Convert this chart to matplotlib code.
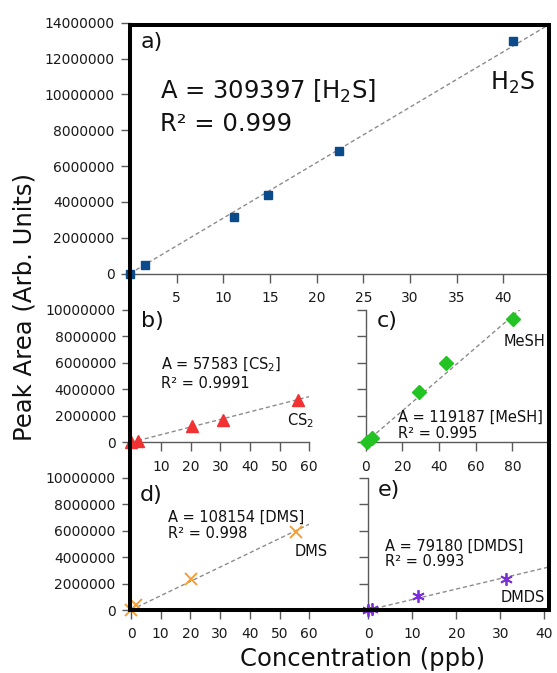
import numpy as np
import matplotlib
matplotlib.use('Agg')
import matplotlib.pyplot as plt
from matplotlib.patches import Rectangle
from matplotlib.ticker import StrMethodFormatter


W, H = 557, 673

# Calibration points: concentration (ppb) vs. peak area
h2s_conc = [0, 1.6, 11.1, 14.8, 22.4, 41.0]
h2s_area = [0, 460000, 3140000, 4390000, 6850000, 13000000]
cs2_conc = [0, 2.1, 20.5, 30.8, 56.2]
cs2_area = [0, 110000, 1250000, 1680000, 3190000]
mesh_conc = [0.5, 3.3, 29.3, 43.8, 80.2]
mesh_area = [0, 350000, 3770000, 5980000, 9350000]
dms_conc = [0, 1.6, 20.1, 55.4]
dms_area = [0, 370000, 2340000, 5860000]
dmds_conc = [0, 0.8, 11.4, 31.4]
dmds_area = [0, 50000, 1060000, 2340000]

# Fitted slopes (area per ppb) and R^2 values
slopes = {'H2S': 309397, 'CS2': 57583, 'MeSH': 119187, 'DMS': 108154, 'DMDS': 79180}
r2 = {'H2S': '0.999', 'CS2': '0.9991', 'MeSH': '0.995', 'DMS': '0.998', 'DMDS': '0.993'}

big_yticks = [0, 2000000, 4000000, 6000000, 8000000, 10000000, 12000000, 14000000]
small_yticks = [0, 2000000, 4000000, 6000000, 8000000, 10000000]

SPINE = '#5a5a5a'
FIT = '#8c8c8c'


def box(l, t, r, b):
    # pixel box (top-left origin) -> figure fraction rect
    return [l / W, 1 - b / H, (r - l) / W, (b - t) / H]


def put(fig, px, py, s, size):
    fig.text(px / W, 1 - py / H, s, ha='left', va='center', fontsize=size, color='#111111')


def setup(ax, xlim, ylim, xticks, yticks, spines, ylabels):
    ax.set_xlim(*xlim)
    ax.set_ylim(*ylim)
    for side in ['left', 'right', 'top', 'bottom']:
        ax.spines[side].set_visible(side in spines)
        ax.spines[side].set_color(SPINE)
        ax.spines[side].set_linewidth(1.0)
    ax.set_xticks(xticks)
    ax.set_yticks(yticks)
    ax.yaxis.set_major_formatter(StrMethodFormatter('{x:.0f}'))
    ax.tick_params(direction='out', length=6.5, width=1, color=SPINE,
                   labelsize=10, labelcolor='#1a1a1a')
    ax.tick_params(axis='x', pad=6)
    ax.tick_params(axis='y', pad=4.5, labelleft=ylabels)
    ax.patch.set_alpha(0)


def draw(ax, conc, area, slope, xmax, **style):
    xs = np.array([0, xmax])
    ax.plot(xs, slope * xs, color=FIT, lw=1, dashes=(3, 2), zorder=2)
    ax.plot(conc, area, ls='none', clip_on=False, zorder=3, **style)


fig = plt.figure(figsize=(W / 100, H / 100), dpi=100)

ax_a = fig.add_axes(box(130, 22.7, 548.5, 273.5))
ax_b = fig.add_axes(box(131.3, 310, 309.3, 442.3))
ax_c = fig.add_axes(box(365.7, 310, 548.5, 442.3))
ax_d = fig.add_axes(box(131, 477.7, 309.3, 610))
ax_e = fig.add_axes(box(368.3, 477.7, 548.5, 610))

# a) H2S
setup(ax_a, (0, 44.85), (0, 14000000), [5, 10, 15, 20, 25, 30, 35, 40], big_yticks, ['bottom'], True)
draw(ax_a, h2s_conc, h2s_area, slopes['H2S'], 44.85,
     marker='s', ms=6, color='#0b4a8b', mec='#0b4a8b')

# b) CS2
setup(ax_b, (0, 60), (0, 10000000), [10, 20, 30, 40, 50, 60], small_yticks, ['bottom'], True)
draw(ax_b, cs2_conc, cs2_area, slopes['CS2'], 60,
     marker='^', ms=9, color='#f23232', mec='#f23232')

# c) MeSH
setup(ax_c, (0, 99.7), (0, 10000000), [0, 20, 40, 60, 80], small_yticks, ['left', 'bottom'], False)
draw(ax_c, mesh_conc, mesh_area, slopes['MeSH'], 99.7,
     marker='D', ms=7, color='#22c322', mec='#22c322')

# d) DMS
setup(ax_d, (0, 60), (0, 10000000), [0, 10, 20, 30, 40, 50, 60], small_yticks, [], True)
draw(ax_d, dms_conc, dms_area, slopes['DMS'], 60,
     marker='x', ms=9, mew=1.4, color='#f5a033')

# e) DMDS
setup(ax_e, (0, 40.95), (0, 10000000), [0, 10, 20, 30, 40], small_yticks, ['left'], False)
draw(ax_e, dmds_conc, dmds_area, slopes['DMDS'], 40.95,
     marker=(6, 2, 0), ms=9, mew=1.3, color='#7b2fd6')

# heavy outer frame around all panels
fig.add_artist(Rectangle((130.3 / W, 1 - 609.5 / H), (548.5 - 130.3) / W, (609.5 - 24.7) / H,
                         transform=fig.transFigure, fill=False, ec='black', lw=2.9, zorder=10))

# panel labels and fit equations
put(fig, 141, 42, 'a)', 16)
put(fig, 160, 91, 'A = %d [H$_2$S]' % slopes['H2S'], 17.5)
put(fig, 160, 124, 'R² = ' + r2['H2S'], 17.5)
put(fig, 490, 83, 'H$_2$S', 17)

put(fig, 141, 321, 'b)', 16)
put(fig, 161, 365, 'A = %d [CS$_2$]' % slopes['CS2'], 10.5)
put(fig, 161, 384, 'R² = ' + r2['CS2'], 10.5)
put(fig, 287, 421, 'CS$_2$', 10.5)

put(fig, 377, 321, 'c)', 16)
put(fig, 504, 342, 'MeSH', 10.5)
put(fig, 398, 417, 'A = %d [MeSH]' % slopes['MeSH'], 10.5)
put(fig, 398, 433, 'R² = ' + r2['MeSH'], 10.5)

put(fig, 140, 495, 'd)', 16)
put(fig, 168, 517, 'A = %d [DMS]' % slopes['DMS'], 10.5)
put(fig, 168, 534, 'R² = ' + r2['DMS'], 10.5)
put(fig, 295, 552, 'DMS', 10.5)

put(fig, 378, 490, 'e)', 16)
put(fig, 385, 546, 'A = %d [DMDS]' % slopes['DMDS'], 10.5)
put(fig, 385, 562, 'R² = ' + r2['DMDS'], 10.5)
put(fig, 501, 597, 'DMDS', 10.5)

fig.text(25 / W, 1 - 307 / H, 'Peak Area (Arb. Units)', rotation=90,
         ha='center', va='center', fontsize=17.5, color='#111111')
fig.text(363 / W, 1 - 659 / H, 'Concentration (ppb)',
         ha='center', va='center', fontsize=17.5, color='#111111')

fig.savefig('out.png', dpi=100)
